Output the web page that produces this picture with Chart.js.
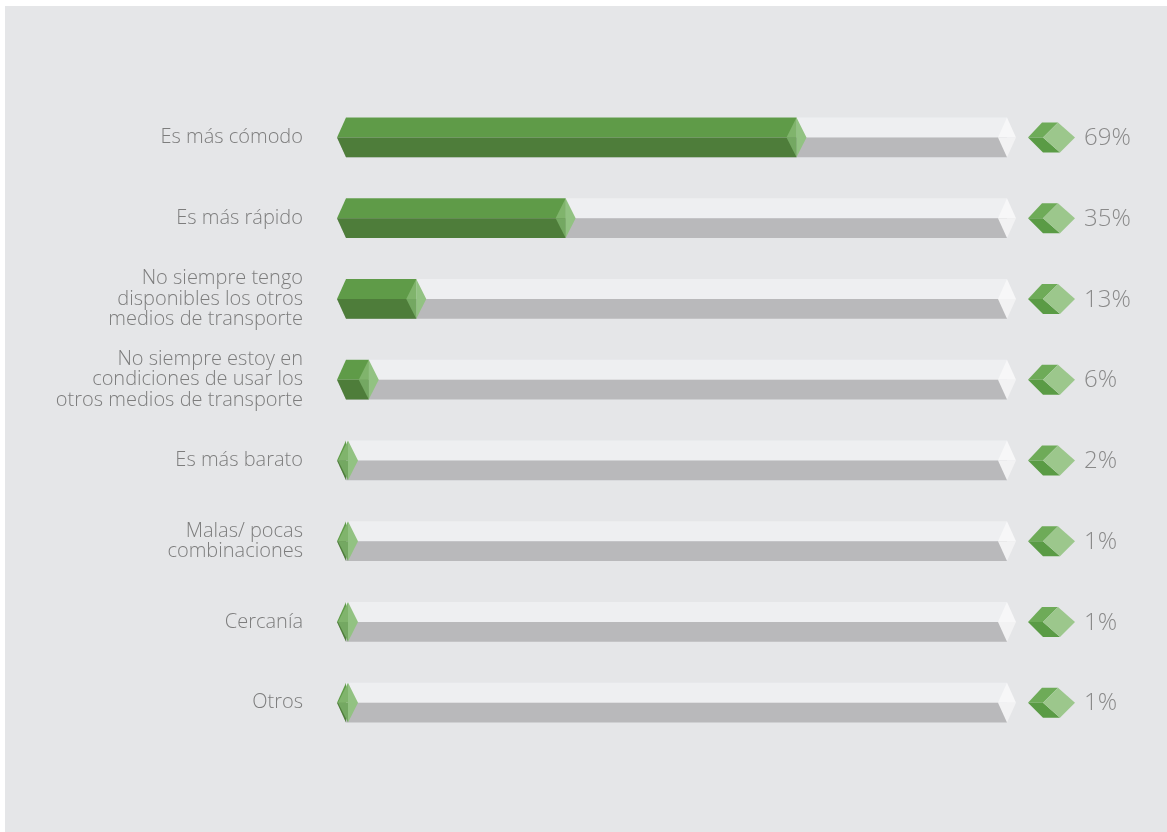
<!DOCTYPE html>
<html>
<head>
<meta charset="utf-8">
<script src="https://cdn.jsdelivr.net/npm/chart.js@4/dist/chart.umd.min.js"></script>
<style>
  html, body { margin: 0; padding: 0; background: #ffffff; }
  #wrap { position: absolute; left: 0; top: 0; width: 1167px; height: 832px; }
</style>
</head>
<body>
<div id="wrap"><canvas id="grafico" width="1167" height="832"></canvas></div>
<script>
const categorias = [
    'Es más cómodo',
    'Es más rápido',
    ['No siempre tengo', 'disponibles los otros', 'medios de transporte'],
    ['No siempre estoy en', 'condiciones de usar los', 'otros medios de transporte'],
    'Es más barato',
    ['Malas/ pocas', 'combinaciones'],
    'Cercanía',
    'Otros'
];
const valores = [69, 35, 13, 6, 2, 1, 1, 1];

// dibuja las barras 3D, la punta blanca del riel y el icono con el porcentaje
const barras3d = {
    id: 'barras3d',
    beforeDraw(chart) {
        const c = chart.ctx;
        c.save();
        c.fillStyle = '#e5e6e8';
        c.fillRect(5, 6, chart.width - 5, chart.height - 6);
        c.restore();
    },
    afterDatasetsDraw(chart) {
        const c = chart.ctx;
        const x = chart.scales.x;
        const meta = chart.getDatasetMeta(0);
        const x0 = x.getPixelForValue(0);
        const x100 = x.getPixelForValue(100);
        const tip = x0 + 9;
        const body = x0 + 18;

        function poly(pts, color) {
            c.beginPath();
            c.moveTo(pts[0][0], pts[0][1]);
            for (let i = 1; i < pts.length; i++) c.lineTo(pts[i][0], pts[i][1]);
            c.closePath();
            c.fillStyle = color;
            c.fill();
        }

        c.save();
        meta.data.forEach(function (bar, i) {
            const cy = bar.y;
            const h = bar.height / 2;
            const top = cy - h, bot = cy + h;
            const fin = bar.x;

            // riel gris
            poly([[tip, cy], [body, top], [x100, top], [x100, cy]], '#eeeff1');
            poly([[tip, cy], [x100, cy], [x100, bot], [body, bot]], '#b9b9bb');
            // punta blanca del riel
            poly([[x100 - 9, cy], [x100, top], [x100 + 9, cy]], '#f7f7f8');
            poly([[x100 - 9, cy], [x100 + 9, cy], [x100, bot]], '#f2f2f3');

            // barra verde
            const fx = Math.max(fin, body);
            poly([[tip, cy], [body, top], [fx, top], [fx, cy]], '#5f9b48');
            poly([[tip, cy], [fx, cy], [fx, bot], [body, bot]], '#4e7d3a');
            // rombo al final
            const rx = Math.max(fin, body + 2);
            poly([[rx - 10, cy], [rx, top], [rx, cy]], '#80b46c');
            poly([[rx - 10, cy], [rx, cy], [rx, bot]], '#74a862');
            poly([[rx, top], [rx + 10, cy], [rx, bot]], '#92c282');

            // icono
            const ix = x100 + 21;
            const L = [ix, cy], TL = [ix + 14, cy - 15], TR = [ix + 30, cy - 15];
            const R = [ix + 47, cy], BR = [ix + 32, cy + 15], BL = [ix + 15, cy + 15];
            const M = [ix + 15, cy];
            poly([L, TL, TR, M], '#6eab58');
            poly([L, M, BR, BL], '#5a9b45');
            poly([M, TR, R, BR], '#9cc78c');

            // porcentaje
            c.fillStyle = '#8a8a8a';
            c.font = '300 24px "Open Sans", sans-serif';
            c.textAlign = 'left';
            c.textBaseline = 'middle';
            c.fillText(valores[i] + '%', x100 + 77, cy + 1);
        });
        c.restore();
    }
};

const ctx = document.getElementById('grafico').getContext('2d');
const grafico = new Chart(ctx, {
    type: 'bar',
    data: {
        labels: categorias,
        datasets: [{
            label: 'Motivos',
            data: valores,
            backgroundColor: 'rgba(0,0,0,0)',
            borderWidth: 0,
            categoryPercentage: 1,
            barPercentage: 0.495
        }]
    },
    options: {
        indexAxis: 'y',
        responsive: false,
        animation: false,
        layout: {
            padding: { left: 0, right: 160, top: 97, bottom: 89 }
        },
        scales: {
            x: {
                min: 0,
                max: 100,
                display: false
            },
            y: {
                grid: { display: false, drawTicks: false },
                border: { display: false },
                afterFit: function (scale) { scale.width = 328; },
                ticks: {
                    color: '#7d7d7d',
                    padding: 25,
                    font: { family: '"Open Sans", sans-serif', size: 20, weight: '300', lineHeight: 1.02 }
                }
            }
        },
        plugins: {
            legend: { display: false },
            tooltip: { enabled: false }
        }
    },
    plugins: [barras3d]
});
</script>
</body>
</html>
